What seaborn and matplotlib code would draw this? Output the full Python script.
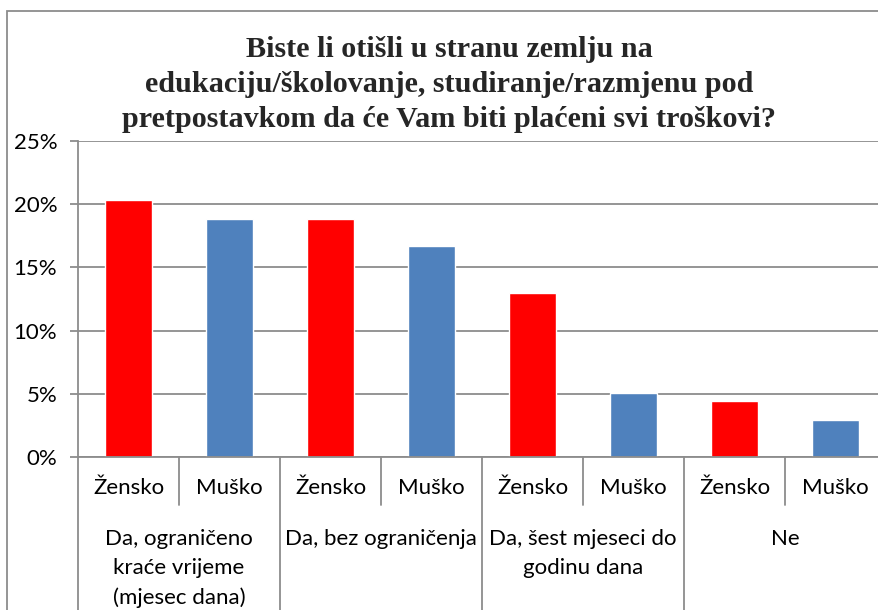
import matplotlib.pyplot as plt
import pandas as pd
import seaborn as sns
from matplotlib.patches import Rectangle

# values (percent)
groups = [
    "Da, ograničeno\nkraće vrijeme\n(mjesec dana)",
    "Da, bez ograničenja",
    "Da, šest mjeseci do\ngodinu dana",
    "Ne",
]
genders = ["Žensko", "Muško"]
zensko = [20.3, 18.8, 13.0, 4.4]
musko = [18.8, 16.7, 5.1, 2.9]
title = (
    "Biste li otišli u stranu zemlju na\n"
    "edukaciju/školovanje, studiranje/razmjenu pod\n"
    "pretpostavkom da će Vam biti plaćeni svi troškovi?"
)
colors = {"Žensko": "#FF0000", "Muško": "#4F81BD"}


def build_frame() -> pd.DataFrame:
    rows = []
    for g, z, m in zip(groups, zensko, musko):
        rows.append({"grupa": g, "spol": "Žensko", "udio": z})
        rows.append({"grupa": g, "spol": "Muško", "udio": m})
    return pd.DataFrame(rows)


if __name__ == "__main__":
    data = build_frame()
    sns.set_theme(style="white")
    plt.rcParams["font.family"] = ["Lato", "DejaVu Sans"]

    W, H = 879, 610
    fig = plt.figure(figsize=(W / 100, H / 100), dpi=100)
    ax = fig.add_axes([78 / W, 1 - 457 / H, (886 - 78) / W, (457 - 141) / H])

    sns.barplot(
        data=data, x="grupa", y="udio", hue="spol", hue_order=genders,
        order=groups, palette=colors, width=1.0, gap=0.525,
        legend=False, ax=ax, saturation=1,
    )

    grey = "#8c8c8c"
    ax.set_xlim(-0.5, len(groups) - 0.5)
    ax.set_ylim(0, 25)
    ax.set_yticks(range(0, 26, 5))
    ax.set_yticklabels([f"{v}%" for v in range(0, 26, 5)], fontsize=16, color="black")
    ax.yaxis.grid(True, color=grey, linewidth=1.3)
    ax.set_axisbelow(True)
    ax.tick_params(axis="y", length=6, width=1.3, color=grey, pad=9, left=True)
    ax.set_xticks([])
    ax.set_xlabel("")
    ax.set_ylabel("")
    for side in ["top", "right"]:
        ax.spines[side].set_visible(False)
    for side in ["left", "bottom"]:
        ax.spines[side].set_color(grey)
        ax.spines[side].set_linewidth(1.3)

    trans = ax.get_xaxis_transform()
    ax_h = 457 - 141
    for i, g in enumerate(groups):
        for off, lab in zip([-0.25, 0.25], genders):
            ax.text(i + off, -31 / ax_h, lab, transform=trans, ha="center",
                    va="center", fontsize=16, color="black")
        ax.text(i, -72 / ax_h, g, transform=trans, ha="center", va="top",
                fontsize=16, color="black", linespacing=1.55)
        ax.plot([i, i], [0, -48 / ax_h], transform=trans, color=grey,
                linewidth=1.3, clip_on=False)
    for i in range(len(groups) + 1):
        ax.plot([i - 0.5, i - 0.5], [0, -0.6], transform=trans, color=grey,
                linewidth=1.3, clip_on=False)

    fig.text(449 / W, 1 - 36 / H, title, ha="center", va="top", fontsize=21.7,
             fontweight="bold", family="Liberation Serif", linespacing=1.38)

    fig.patches.append(Rectangle((7 / W, -0.1), 2, 1.1 - 11 / H, transform=fig.transFigure,
                                 fill=False, edgecolor=grey, linewidth=1.3))

    fig.savefig("out.png", dpi=100)
